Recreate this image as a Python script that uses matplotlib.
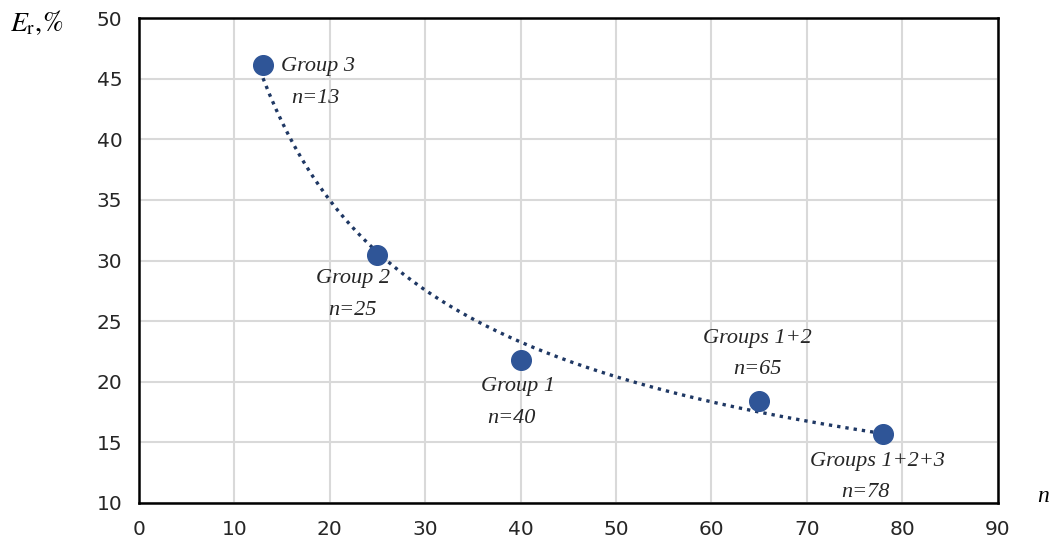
import matplotlib.pyplot as plt
import numpy as np

n_values = [13, 25, 40, 65, 78]
er_values = [46.1, 30.5, 21.8, 18.4, 15.7]
group_names = ['Group 3', 'Group 2', 'Group 1', 'Groups 1+2', 'Groups 1+2+3']
n_labels = ['n=13', 'n=25', 'n=40', 'n=65', 'n=78']

x_ticks = list(range(0, 91, 10))
y_ticks = list(range(10, 51, 5))

fig = plt.figure(figsize=(10.49, 5.5), dpi=100)
ax = fig.add_axes([0.1325, 0.0855, 0.8185, 0.8815])

# power trend line fitted to the points
b, loga = np.polyfit(np.log(n_values), np.log(er_values), 1)
xt = np.linspace(min(n_values), max(n_values), 200)
ax.plot(xt, np.exp(loga) * xt ** b, linestyle=(0, (1, 1.5)), color='#1F3864',
        linewidth=2.4, zorder=2)

ax.scatter(n_values, er_values, s=200, color='#2F5597', zorder=3)

# label positions (name, n=) in data coords
name_pos = [(18.8, 46.0), (22.4, 28.5), (39.7, 19.65), (64.8, 23.6), (77.4, 13.4)]
nlab_pos = [(18.5, 43.4), (22.4, 25.9), (39.0, 17.0), (64.8, 21.0), (76.1, 10.9)]
tfont = dict(family='Liberation Serif', style='italic', fontsize=16, color='#262626')
for name, lab, p1, p2 in zip(group_names, n_labels, name_pos, nlab_pos):
    ax.text(p1[0], p1[1], name, ha='center', va='center', **tfont)
    ax.text(p2[0], p2[1], lab, ha='center', va='center', **tfont)

ax.set_xlim(0, 90)
ax.set_ylim(10, 50)
ax.set_xticks(x_ticks)
ax.set_yticks(y_ticks)
ax.grid(True, color='#D9D9D9', linewidth=1.5)
ax.set_axisbelow(True)
for sp in ax.spines.values():
    sp.set_color('black')
    sp.set_linewidth(1.8)
ax.tick_params(length=0, labelsize=14.5, pad=12, colors='#262626')

fig.text(0.035, 0.958, r'$E_{\mathrm{r}},\!\mathit{\%}$', fontsize=20, ha='center', va='center',
         math_fontfamily='stix')
fig.text(0.994, 0.097, 'n', fontsize=17, ha='center', va='center',
         family='Liberation Serif', style='italic')

plt.savefig('out.png')
